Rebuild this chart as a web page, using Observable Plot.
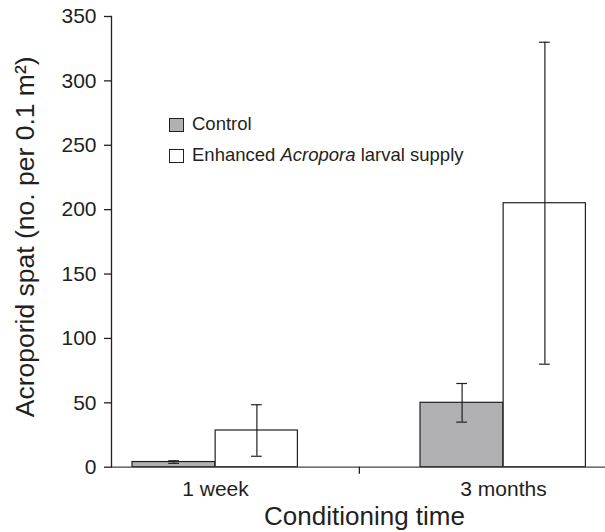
<!DOCTYPE html>
<html><head><meta charset="utf-8">
<script src="https://cdn.jsdelivr.net/npm/d3@7"></script>
<script src="https://cdn.jsdelivr.net/npm/@observablehq/plot@0.6"></script>
<style>
body{margin:0;background:#fff;font-family:"Liberation Sans",Arial,Helvetica,sans-serif;}
#wrap{position:relative;width:605px;height:532px;}
#legend{position:absolute;left:169px;top:109px;font-size:18.5px;color:#231f20;line-height:1;}
.item{display:flex;align-items:center;height:31px;}
.sw{width:15px;height:14px;border:1.3px solid #231f20;margin-right:8px;box-sizing:border-box;}
svg{display:block}
</style></head><body>
<div id="wrap"><div id="legend"></div></div>
<script>
const periods = ["1 week", "3 months"];
const treatments = ["Control", "Enhanced"];
const controlMean = [4, 50];
const controlErr = [1, 15];
const enhancedMean = [28.5, 205];
const enhancedErr = [20, 125];
const yTicks = [0, 50, 100, 150, 200, 250, 300, 350];
const xLabel = "Conditioning time";
const yLabel = "Acroporid spat (no. per 0.1 m²)";

const rows = [];
periods.forEach((p, i) => {
  rows.push({period: p, treatment: treatments[0], mean: controlMean[i], err: controlErr[i]});
  rows.push({period: p, treatment: treatments[1], mean: enhancedMean[i], err: enhancedErr[i]});
});
const ctrl = rows.filter(d => d.treatment === "Control");
const enh = rows.filter(d => d.treatment === "Enhanced");

const ink = "#231f20";
const grey = "#b1b1b4";
const bw = 288.3;
const off = 41.4;
const cap = (bw - 11) / 2;

const errMarks = (data, dx) => [
  Plot.ruleX(data, {x: "period", y1: d => d.mean - d.err, y2: d => d.mean + d.err, dx, stroke: ink, strokeWidth: 1.2}),
  Plot.tickY(data, {x: "period", y: d => d.mean + d.err, dx, insetLeft: cap, insetRight: cap, stroke: ink, strokeWidth: 1.2}),
  Plot.tickY(data, {x: "period", y: d => d.mean - d.err, dx, insetLeft: cap, insetRight: cap, stroke: ink, strokeWidth: 1.2})
];

const chart = Plot.plot({
  width: 605,
  height: 532,
  marginLeft: 111,
  marginRight: 0,
  marginTop: 16,
  marginBottom: 65.3,
  style: {fontFamily: '"Liberation Sans", Arial, Helvetica, sans-serif', color: ink, background: "#fff"},
  x: {domain: periods, range: [71, 71 + 2 * bw], padding: 0},
  y: {domain: [0, 350]},
  marks: [
    Plot.barY(ctrl, {x: "period", y: "mean", fill: grey, stroke: ink, strokeWidth: 1.2, insetLeft: 61, insetRight: bw / 2}),
    Plot.barY(enh, {x: "period", y: "mean", fill: "#fff", stroke: ink, strokeWidth: 1.2, insetLeft: bw / 2, insetRight: 61.6}),
    ...errMarks(ctrl, -off),
    ...errMarks(enh, off),
    Plot.ruleY([0], {stroke: "#444", strokeWidth: 1.3}),
    Plot.frame({anchor: "left", stroke: ink, strokeWidth: 1.3}),
    Plot.ruleX([periods[1]], {y1: 0, y2: 0, insetBottom: -7, dx: -bw / 2, stroke: ink, strokeWidth: 1.3}),
    Plot.axisY({ticks: yTicks, tickSize: 7, tickPadding: 8, fontSize: 21, label: null, stroke: ink, strokeWidth: 1.3, fill: ink}),
    Plot.axisX({tickSize: 0, tickPadding: 14, fontSize: 21, label: null, fill: ink}),
    Plot.text([xLabel], {frameAnchor: "bottom", dx: 6, dy: 58, fontSize: 26, fill: ink, lineAnchor: "bottom"}),
    Plot.text([yLabel], {frameAnchor: "left", textAnchor: "middle", rotate: -90, dx: -86, dy: -5, fontSize: 26.5, fill: ink})
  ]
});
document.getElementById("wrap").prepend(chart);

const legend = document.getElementById("legend");
[["Control", grey, "Control"], ["Enhanced", "#fff", "Enhanced <i>Acropora</i> larval supply"]].forEach(([k, c, html]) => {
  const it = document.createElement("div");
  it.className = "item";
  it.innerHTML = `<span class="sw" style="background:${c}"></span><span>${html}</span>`;
  legend.appendChild(it);
});
</script>
</body></html>
